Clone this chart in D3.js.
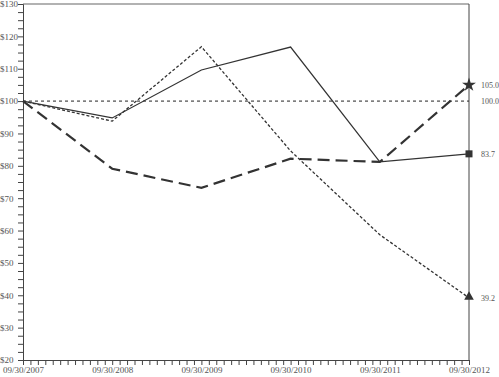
<!DOCTYPE html>
<html>
<head>
<meta charset="utf-8" />
<script src="https://cdn.jsdelivr.net/npm/d3@7"></script>
<style>
  body { margin: 0; background: #fff; }
  text { font-family: "Liberation Serif", "DejaVu Serif", serif; font-size: 9px; fill: #444; }
</style>
</head>
<body>
<svg id="chart" width="499" height="377"></svg>
<script>
  var years = ["09/30/2007", "09/30/2008", "09/30/2009", "09/30/2010", "09/30/2011", "09/30/2012"];
  var solidSeries = [100, 94.8, 109.6, 116.7, 81.2, 83.7];
  var shortDashSeries = [100, 93.8, 116.8, 84.6, 58.7, 39.2];
  var longDashSeries = [100, 79.1, 73.2, 82.2, 81.2, 105.0];
  var baseline = [100, 100, 100, 100, 100, 100];
  var yTicks = [20, 30, 40, 50, 60, 70, 80, 90, 100, 110, 120, 130];

  var svg = d3.select('#chart');
  var plotLeft = 23, plotRight = 469, plotTop = 4, plotBottom = 360;

  var x = d3.scaleLinear().domain([0, 5]).range([plotLeft, plotRight]);
  var y = d3.scaleLinear().domain([20, 130]).range([plotBottom, plotTop]);

  // top gridline and right frame
  svg.append('line').attr('x1', plotLeft).attr('x2', plotRight).attr('y1', y(130)).attr('y2', y(130))
    .attr('stroke', '#999').attr('stroke-width', 1.5);
  svg.append('line').attr('x1', plotRight).attr('x2', plotRight).attr('y1', y(130)).attr('y2', plotBottom)
    .attr('stroke', '#444').attr('stroke-width', 1);

  // y axis
  var minorY = d3.range(20, 130.01, 2.5);
  var yAxis = svg.append('g').attr('transform', 'translate(' + plotLeft + ',0)')
    .call(d3.axisLeft(y).tickValues(minorY).tickSize(5).tickFormat(function (d) {
      return yTicks.indexOf(d) >= 0 ? '$' + d : '';
    }));
  yAxis.select('.domain').attr('stroke', '#444');
  yAxis.selectAll('.tick line').attr('stroke', '#444');
  yAxis.selectAll('.tick text').attr('x', -23).attr('text-anchor', 'start').style('fill', '#555');

  // x axis (monthly minor ticks)
  var xMinor = d3.range(0, 5.001, 1 / 12);
  var xAxis = svg.append('g').attr('transform', 'translate(0,' + plotBottom + ')')
    .call(d3.axisBottom(x).tickValues(xMinor).tickSize(5).tickFormat(function (d) {
      var r = Math.round(d);
      return Math.abs(d - r) < 1e-6 ? years[r] : '';
    }));
  xAxis.select('.domain').attr('stroke', '#444');
  xAxis.selectAll('.tick line').attr('stroke', '#444');
  xAxis.selectAll('.tick text').attr('y', 7).style('fill', '#555');

  var line = d3.line().x(function (d, i) { return x(i); }).y(function (d) { return y(d); });

  svg.append('path').datum(baseline).attr('d', line).attr('fill', 'none')
    .attr('stroke', '#222').attr('stroke-width', 1).attr('stroke-dasharray', '3,3');
  svg.append('path').datum(solidSeries).attr('d', line).attr('fill', 'none')
    .attr('stroke', '#333').attr('stroke-width', 1.2);
  svg.append('path').datum(shortDashSeries).attr('d', line).attr('fill', 'none')
    .attr('stroke', '#333').attr('stroke-width', 1.3).attr('stroke-dasharray', '3,2');
  svg.append('path').datum(longDashSeries).attr('d', line).attr('fill', 'none')
    .attr('stroke', '#333').attr('stroke-width', 2.2).attr('stroke-dasharray', '12,6');

  // end markers
  var last = 5;
  svg.append('rect').attr('x', x(last) - 3.5).attr('y', y(solidSeries[last]) - 3.5)
    .attr('width', 7).attr('height', 7).attr('fill', '#333');
  svg.append('path').attr('d', d3.symbol().type(d3.symbolTriangle).size(40)())
    .attr('transform', 'translate(' + x(last) + ',' + (y(shortDashSeries[last]) - 1) + ')').attr('fill', '#333');
  svg.append('path').attr('d', d3.symbol().type(d3.symbolStar).size(60)())
    .attr('transform', 'translate(' + x(last) + ',' + y(longDashSeries[last]) + ')').attr('fill', '#333');

  // end labels
  var ends = [longDashSeries[last], baseline[last], solidSeries[last], shortDashSeries[last]];
  svg.selectAll('.endlabel').data(ends).enter().append('text')
    .attr('x', 481).attr('y', function (d) { return y(d) + 3; })
    .style('font-size', '8px').style('fill', '#555')
    .text(function (d) { return d.toFixed(1); });
</script>
</body>
</html>
